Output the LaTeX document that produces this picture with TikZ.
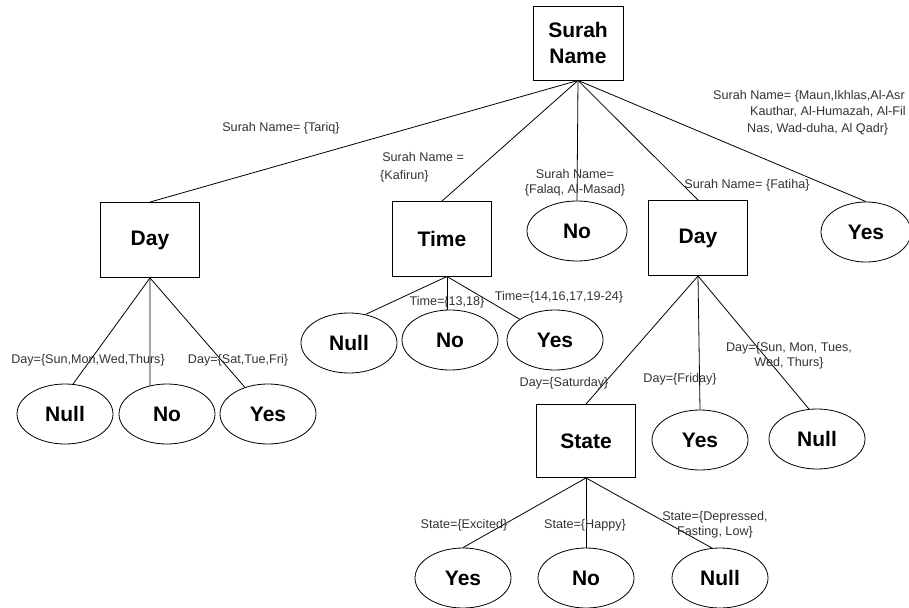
\documentclass[tikz,border=0pt]{standalone}
\usepackage{fontspec}
\setmainfont{Liberation Sans}
\usetikzlibrary{shapes.geometric}
\begin{document}
\begin{tikzpicture}[x=1pt,y=-1pt,
  box/.style={draw, line width=0.9pt, minimum width=99pt, minimum height=75pt,
    font=\fontsize{21}{26}\selectfont\bfseries, inner sep=0pt, align=center},
  leaf/.style={draw, ellipse, line width=0.8pt, minimum width=96pt, minimum height=60pt,
    font=\fontsize{21}{26}\selectfont\bfseries, inner sep=0pt},
  edge/.style={line width=0.8pt},
  lbl/.style={font=\fontsize{12.6}{15}\selectfont, text=black!80, inner sep=0pt, align=center}]
\useasboundingbox (0,0) rectangle (909,607);

% decision nodes
\node[box, minimum width=90pt, minimum height=74pt] (root) at (578,43) {Surah\\Name};
\node[box] (dayL) at (150,240) {Day};
\node[box] (time) at (442,239) {Time};
\node[leaf, minimum width=100pt] (noTop) at (577,231) {No};
\node[box] (dayR) at (698,238) {Day};
\node[leaf, minimum width=90pt] (yesR) at (866,232) {Yes};

% left Day leaves
\node[leaf] (nullL) at (65,414) {Null};
\node[leaf] (noL) at (167,414) {No};
\node[leaf] (yesL) at (268,414) {Yes};

% Time leaves
\node[leaf] (nullT) at (349,343) {Null};
\node[leaf] (noT) at (450,340) {No};
\node[leaf] (yesT) at (555,340) {Yes};
\coordinate (tj) at (447,276.5);

% right Day children
\node[box, minimum height=73pt] (state) at (586,441) {State};
\node[leaf] (yesD) at (700,440) {Yes};
\node[leaf] (nullD) at (817,439) {Null};

% State leaves
\node[leaf] (yesS) at (463,578) {Yes};
\node[leaf] (noS) at (586,578) {No};
\node[leaf] (nullS) at (720,578) {Null};

% connectors
\draw[edge] (root.south) -- (dayL.north);
\draw[edge] (root.south) -- (time.north);
\draw[edge] (root.south) -- (noTop.north);
\draw[edge] (root.south) -- (dayR.north);
\draw[edge] (root.south) -- (yesR.north);

\draw[edge] (dayL.south) -- (nullL.75);
\draw[edge] (dayL.south) -- (noL.121);
\draw[edge] (dayL.south) -- (yesL);

\draw[edge] (tj) -- (nullT.60);
\draw[edge] (tj) -- (noT.north -| tj);
\draw[edge] (tj) -- (yesT);

\draw[edge] (dayR.south) -- (state.north);
\draw[edge] (dayR.south) -- (yesD.north);
\draw[edge] (dayR.south) -- (nullD.105);

\draw[edge] (state.south) -- (yesS.north);
\draw[edge] (state.south) -- (noS.north);
\draw[edge] (state.south) -- (nullS.105);

% labels
\node[lbl] (lTariq) at (281,128) {Surah Name= \{Tariq\}};
\node[lbl, anchor=north west, align=left] (lKaf) at (380,152) {\,Surah Name =\\[3pt]\{Kafirun\}};
\node[lbl] (lFalaq) at (575,183) {Surah Name=\\\{Falaq, Al-Masad\}};
\node[lbl] (lFatiha) at (747,185) {Surah Name= \{Fatiha\}};
\node[lbl, anchor=north west, align=left] (lMaun) at (713,90)
  {Surah Name= \{Maun,Ikhlas,Al-Asr\\[1.5pt]\hspace*{37pt}Kauthar, Al-Humazah, Al-Fil\\[1.5pt]\hspace*{34pt}Nas, Wad-duha, Al Qadr\}};

\node[lbl] (lSun1) at (88,360) {Day=\{Sun,Mon,Wed,Thurs\}};
\node[lbl] (lSat) at (238,360) {Day=\{Sat,Tue,Fri\}};

\node[lbl] (lT1318) at (447,302) {Time=\{13,18\}};
\node[lbl] (lT14) at (559,297) {Time=\{14,16,17,19-24\}};

\node[lbl] (lSatD) at (564,383) {Day=\{Saturday\}};
\node[lbl] (lFri) at (680,379) {Day=\{Friday\}};
\node[lbl] (lSun2) at (789,356) {Day=\{Sun, Mon, Tues,\\Wed, Thurs\}};

\node[lbl] (lExc) at (464,525) {State=\{Excited\}};
\node[lbl] (lHap) at (585,525) {State=\{Happy\}};
\node[lbl] (lDep) at (715,525) {State=\{Depressed,\\Fasting, Low\}};
\end{tikzpicture}
\end{document}
